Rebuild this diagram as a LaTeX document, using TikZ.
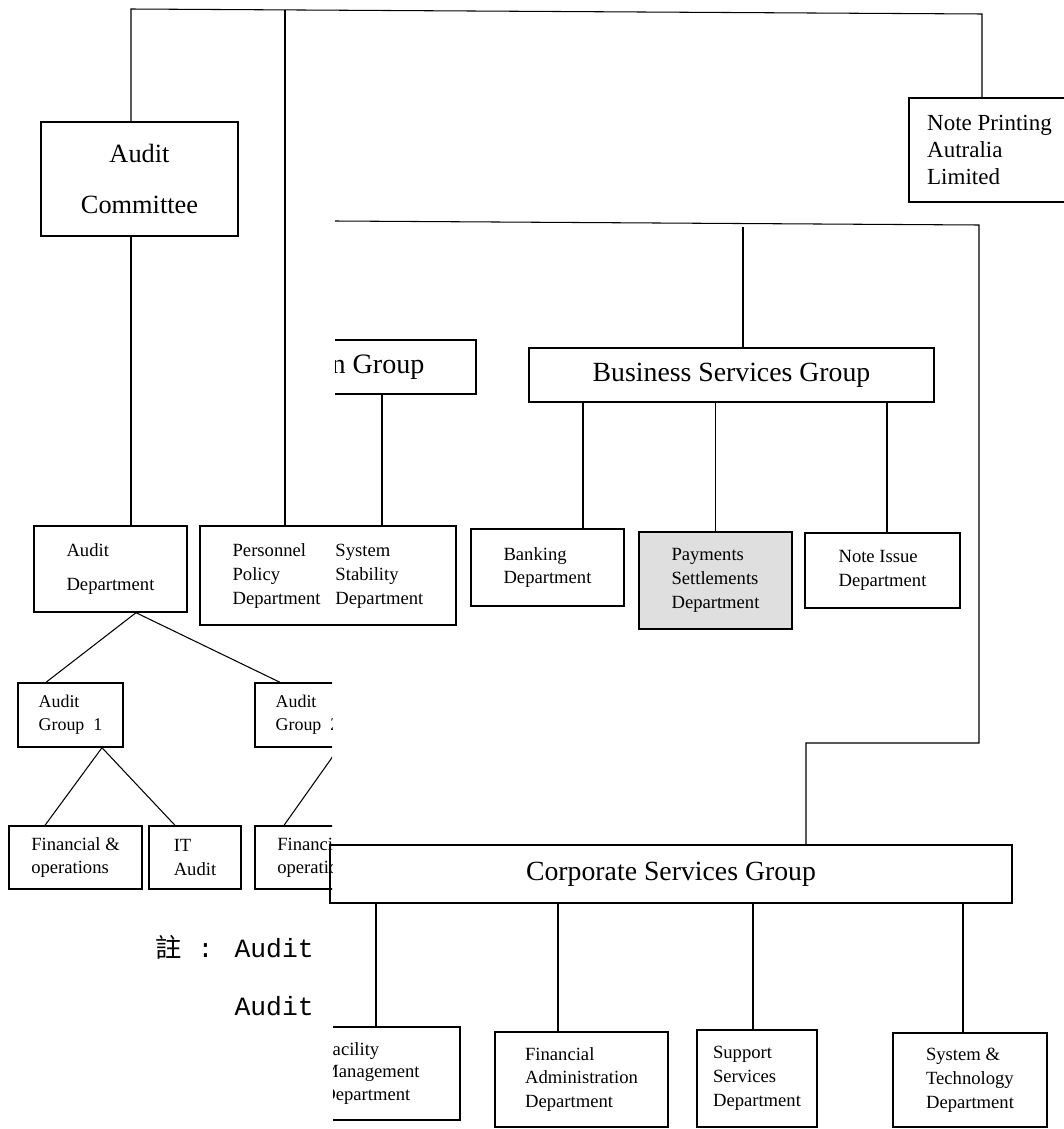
\documentclass[tikz,border=0pt]{standalone}
\usepackage{fontspec}
\setmainfont{Liberation Serif}
\newfontfamily\cjk{Noto Sans CJK TC}
\newfontfamily\notefont{Liberation Mono}

\begin{document}
\begin{tikzpicture}[x=0.02cm, y=-0.02cm,
    box/.style={draw, rectangle, line width=0.8pt, inner sep=0pt},
    dept/.style={box, align=left, font=\fontsize{10.6}{13.6}\selectfont},
    group/.style={box, font=\fontsize{15.8}{19}\selectfont},
    link/.style={line width=0.6pt}]
    \useasboundingbox (0,0) rectangle (1064,1129);
    \clip (0,0) rectangle (1064,1129);

    % Audit side
    \node[box, minimum width=3.94cm, minimum height=2.28cm, align=center, font=\fontsize{15}{29.5}\selectfont] (audcom) at (139.5,179) {Audit\\Committee};
    \node[dept, minimum width=3.06cm, minimum height=1.72cm, font=\fontsize{10.6}{19.8}\selectfont] (auddep) at (110.5,569) {Audit\\Department};
    \node[dept, minimum width=2.1cm, minimum height=1.28cm, font=\fontsize{10.2}{13}\selectfont] (audgr1) at (70.5,715) {Audit\\Group\ \ 1};
    \node[dept, minimum width=2.66cm, minimum height=1.26cm] (finops1) at (75.5,857.5) {Financial \&\\operations};
    \node[dept, minimum width=1.84cm, minimum height=1.26cm] (itaud) at (195,857.5) {IT\\Audit};
    \begin{scope}
        \clip (240,670) rectangle (332,900);
        \node[dept, minimum width=2.1cm, minimum height=1.28cm, font=\fontsize{10.2}{13}\selectfont] (audgr2) at (307.5,715) {Audit\\Group\ \ 2};
        \node[dept, minimum width=2.66cm, minimum height=1.26cm] (finops2) at (321.5,857.5) {Financial \&\\operations};
        \draw[link] ([xshift=0.63cm]audgr2.south) -- ([xshift=-0.75cm]finops2.north);
    \end{scope}

    % Note
    \node[anchor=east, inner sep=0pt, align=right, font=\notefont\fontsize{15}{33}\selectfont] (note) at (314,976) {{\cjk 註} : Audit\\Audit};

    % Note Printing
    \node[box, minimum width=3.22cm, minimum height=2.08cm, align=left, font=\fontsize{13.1}{15.6}\selectfont] (notepr) at (989.5,150) {Note Printing\\Autralia\\Limited};

    % Groups
    \begin{scope}
        \clip (335,300) rectangle (520,420);
        \node[group, minimum width=3.92cm, minimum height=1.08cm, font=\fontsize{16}{19}\selectfont] (ngrp) at (378,367) {n Group};
    \end{scope}
    \node[group, minimum width=8.1cm, minimum height=1.08cm] (business) at (731.5,375) {Business Services Group};
    \node[group, minimum width=13.64cm, minimum height=1.16cm] (corp) at (671,874) {Corporate Services Group};

    % Departments
    \node[dept, minimum width=5.12cm, minimum height=1.98cm] (perpol) at (328,575.5) {\begin{tabular}{@{}l@{\hspace{8.5pt}}l@{}}Personnel & System\\ Policy & Stability\\ Department & Department\end{tabular}};
    \node[dept, minimum width=3.06cm, minimum height=1.54cm] (banking) at (547.5,567.5) {Banking\\Department};
    \node[dept, minimum width=3.06cm, minimum height=1.94cm, fill=gray!25] (payments) at (715.5,580.5) {Payments\\Settlements\\Department};
    \node[dept, minimum width=3.1cm, minimum height=1.5cm] (noteiss) at (882.5,570.5) {Note Issue\\Department};

    \begin{scope}
        \clip (333,1000) rectangle (480,1129);
        \node[dept, minimum width=3.56cm, minimum height=1.86cm, font=\fontsize{10.6}{13}\selectfont] (facility) at (371,1073.5) {Facility\\Management\\Department};
    \end{scope}
    \node[dept, minimum width=3.46cm, minimum height=1.9cm] (finadm) at (581.5,1079.5) {Financial\\Administration\\Department};
    \node[dept, minimum width=2.4cm, minimum height=1.94cm] (support) at (757,1078.5) {Support\\Services\\Department};
    \node[dept, minimum width=3.08cm, minimum height=1.88cm] (systech) at (970,1080) {System \&\\Technology\\Department};

    % Top lines
    \coordinate (topL) at (131,9);
    \coordinate (topR) at (982,14);
    \coordinate (topP) at (285,10);
    \draw[link] (audcom.north -| topL) -- (topL) -- (topR) -- (topR |- notepr.north);
    \draw[link] (topP) -- (topP |- perpol.north);
    \draw[link] (audcom.south -| topL) -- (auddep.north -| topL);

    % Audit tree
    \coordinate (adfork) at ([xshift=0.51cm]auddep.south);
    \draw[link] ([xshift=-0.49cm]audgr1.north) -- (adfork) -- ([xshift=-0.55cm]audgr2.north);
    \coordinate (ag1fork) at ([xshift=0.63cm]audgr1.south);
    \draw[link] ([xshift=-0.61cm]finops1.north) -- (ag1fork) -- ([xshift=-0.4cm]itaud.north);

    % Right side lines
    \coordinate (rtopL) at (335,221);
    \coordinate (rtopR) at (979,225);
    \coordinate (stepR) at (979,743);
    \coordinate (stepL) at (806,743);
    \draw[link] (rtopL) -- (rtopR) -- (stepR) -- (stepL) -- (stepL |- corp.north);
    \coordinate (bizup) at (743,227);
    \draw[link] (bizup) -- (bizup |- business.north);
    \coordinate (ngrpdn) at ([xshift=0.08cm]ngrp.south);
    \draw[link] (ngrpdn) -- (ngrpdn |- perpol.north);

    \coordinate (bankin) at ([xshift=0.71cm]banking.north);
    \coordinate (notein) at ([xshift=0.09cm]noteiss.north);
    \foreach \c in {bankin,payments.north,notein}
        \draw[link] (business.south -| \c) -- (\c);

    \coordinate (facin) at ([xshift=0.1cm]facility.north);
    \coordinate (finin) at ([xshift=-0.47cm]finadm.north);
    \coordinate (supin) at ([xshift=-0.08cm]support.north);
    \coordinate (sysin) at ([xshift=-0.14cm]systech.north);
    \foreach \c in {facin,finin,supin,sysin}
        \draw[link] (corp.south -| \c) -- (\c);
\end{tikzpicture}
\end{document}
